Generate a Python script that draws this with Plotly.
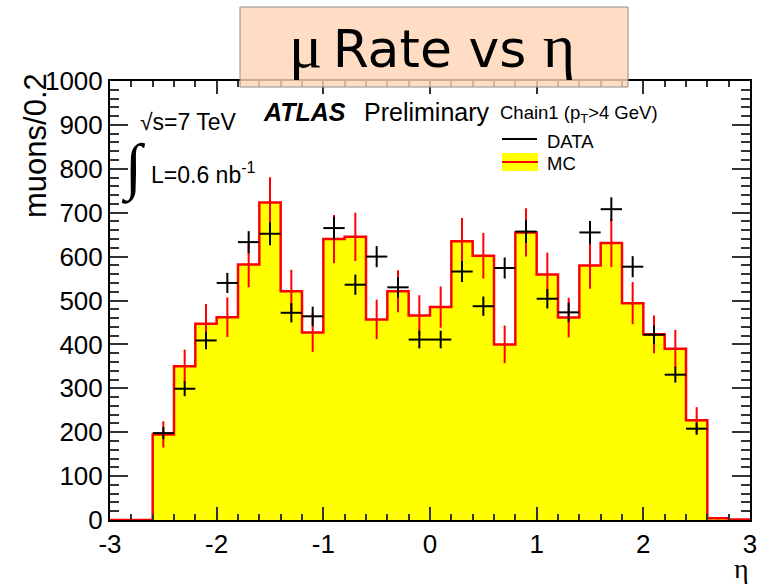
import plotly.graph_objects as go

# Binning in eta (30 bins of width 0.2 from -3 to 3)
bin_edges = [-3.0, -2.8, -2.6, -2.4, -2.2, -2.0, -1.8, -1.6, -1.4, -1.2, -1.0,
             -0.8, -0.6, -0.4, -0.2, 0.0, 0.2, 0.4, 0.6, 0.8, 1.0,
             1.2, 1.4, 1.6, 1.8, 2.0, 2.2, 2.4, 2.6, 2.8, 3.0]
bin_centers = [round((a + b) / 2, 2) for a, b in zip(bin_edges[:-1], bin_edges[1:])]

# Monte Carlo prediction (muons / 0.2) and its uncertainty
mc_counts = [0, 0, 195, 350, 447, 462, 582, 723, 521, 427, 640, 645, 457, 521, 466,
             485, 635, 602, 400, 655, 559, 461, 580, 631, 494, 423, 390, 227, 4, 1]
mc_errors = [0, 0, 30, 38, 45, 45, 52, 58, 49, 44, 55, 55, 45, 48, 46,
             47, 53, 52, 43, 55, 50, 45, 53, 55, 48, 43, 43, 30, 3, 0]

# Observed data (muons / 0.2) and statistical uncertainty
data_counts = [None, None, 198, 299, 409, 540, 633, 652, 472, 464, 665, 536, 600, 530, 411,
               411, 566, 487, 574, 657, 504, 473, 655, 708, 577, 422, 331, 208, None, None]
data_errors = [None, None, 14, 17, 20, 23, 25, 26, 22, 22, 26, 23, 24, 23, 20,
               20, 24, 22, 24, 26, 22, 22, 26, 27, 24, 21, 18, 14, None, None]

x_tick_vals = [-3, -2, -1, 0, 1, 2, 3]
x_tick_text = ["-3", "-2", "-1", "0", "1", "2", "3"]
y_tick_vals = [0, 100, 200, 300, 400, 500, 600, 700, 800, 900, 1000]
y_tick_text = [str(v) for v in y_tick_vals]

W, H = 760, 586
L, R, T, B = 110, 10, 81, 66


def px(x):
    return (x - L) / (W - L - R)


def py(y):
    return (H - B - y) / (H - B - T)


fig = go.Figure()

# MC histogram: yellow filled step outline in red
fig.add_trace(go.Scatter(
    x=bin_edges, y=mc_counts + [mc_counts[-1]],
    mode="lines", line=dict(color="#ff0000", width=2.5, shape="hv"),
    fill="tozeroy", fillcolor="#ffff00", hoverinfo="skip", showlegend=False))

# MC uncertainty bars
mc_x = [c for c, v in zip(bin_centers, mc_counts) if v > 0]
mc_y = [v for v in mc_counts if v > 0]
mc_e = [e for e, v in zip(mc_errors, mc_counts) if v > 0]
fig.add_trace(go.Scatter(
    x=mc_x, y=mc_y, mode="markers",
    marker=dict(size=1, color="rgba(0,0,0,0)"),
    error_y=dict(type="data", array=mc_e, color="#ff0000", thickness=2, width=0),
    hoverinfo="skip", showlegend=False))

# Data points as crosses
d_x = [c for c, v in zip(bin_centers, data_counts) if v is not None]
d_y = [v for v in data_counts if v is not None]
d_e = [e for e in data_errors if e is not None]
fig.add_trace(go.Scatter(
    x=d_x, y=d_y, mode="markers",
    marker=dict(size=1, color="rgba(0,0,0,0)"),
    error_x=dict(type="constant", value=0.1, color="#000000", thickness=2, width=0),
    error_y=dict(type="data", array=d_e, color="#000000", thickness=2, width=0),
    hoverinfo="skip", showlegend=False))

axis_font = dict(family="Liberation Sans, Arial, sans-serif", size=26, color="#000000")

fig.update_xaxes(
    range=[-3, 3], showgrid=False, zeroline=False, automargin=False,
    showline=True, linecolor="#000000", linewidth=2, mirror="allticks",
    ticks="inside", ticklen=13, tickwidth=1.5, tickcolor="#333333",
    tickvals=x_tick_vals, ticktext=x_tick_text, tickfont=axis_font,
    minor=dict(ticks="inside", dtick=0.2, ticklen=6, tickwidth=1.5, tickcolor="#333333"),
)
fig.update_yaxes(
    range=[0, 1000], showgrid=False, zeroline=False, automargin=False,
    showline=True, linecolor="#000000", linewidth=2, mirror="allticks",
    ticks="inside", ticklen=18, tickwidth=1.5, tickcolor="#333333",
    tickvals=y_tick_vals, ticktext=y_tick_text, tickfont=axis_font,
    minor=dict(ticks="inside", dtick=20, ticklen=9, tickwidth=1.5, tickcolor="#333333"),
)

shapes = [
    # title box
    dict(type="rect", xref="paper", yref="paper", x0=px(240), x1=px(628), y0=py(87), y1=py(7),
         fillcolor="rgba(255,213,181,0.8)", line=dict(color="#8c8c8c", width=1), layer="above"),
    # legend: DATA line
    dict(type="line", xref="paper", yref="paper", x0=px(502), x1=px(537), y0=py(139), y1=py(139),
         line=dict(color="#000000", width=2), layer="above"),
    # legend: MC fill + outline
    dict(type="rect", xref="paper", yref="paper", x0=px(502), x1=px(538), y0=py(171), y1=py(153),
         fillcolor="#ffff00", line=dict(width=0), layer="above"),
    dict(type="line", xref="paper", yref="paper", x0=px(502), x1=px(538), y0=py(162), y1=py(162),
         line=dict(color="#ff0000", width=2), layer="above"),
]

sans = "Liberation Sans, Arial, sans-serif"
serif = "Liberation Serif, Times New Roman, serif"


def note(text, x, y, size, family=sans, xanchor="left", yanchor="middle", **kw):
    return dict(text=text, x=px(x), y=py(y), xref="paper", yref="paper",
                xanchor=xanchor, yanchor=yanchor, showarrow=False,
                font=dict(family=family, size=size, color="#000000"), **kw)


annotations = [
    note('<span style="font-family:Liberation Serif;font-size:62px">μ</span>\u2009Rate vs '
         '<span style="font-family:Liberation Serif;font-size:62px">η</span>',
         432, 46, 52, family="DejaVu Sans", xanchor="center"),
    note("muons/0.2", 35, 146, 31, xanchor="center", textangle=-90),
    note("η", 751, 568, 28, family=serif, xanchor="right"),
    note("<b><i>ATLAS</i></b>", 261, 112, 25),
    note("Preliminary", 362, 112, 25),
    note("Chain1 (p<sub>T</sub>&gt;4 GeV)", 498, 114, 18.5),
    note("DATA", 545, 141, 18.5),
    note("MC", 545, 163, 18.5),
    note("√s=7 TeV", 138, 122, 23),
    note("∫", 133, 168, 62, family=serif, xanchor="center"),
    note("L=0.6 nb<sup>-1</sup>", 149, 173, 23),
]

fig.update_layout(
    width=W, height=H,
    margin=dict(l=L, r=R, t=T, b=B, pad=0),
    paper_bgcolor="#ffffff", plot_bgcolor="#ffffff",
    shapes=shapes, annotations=annotations,
    showlegend=False,
)

fig.write_html("out.html")
